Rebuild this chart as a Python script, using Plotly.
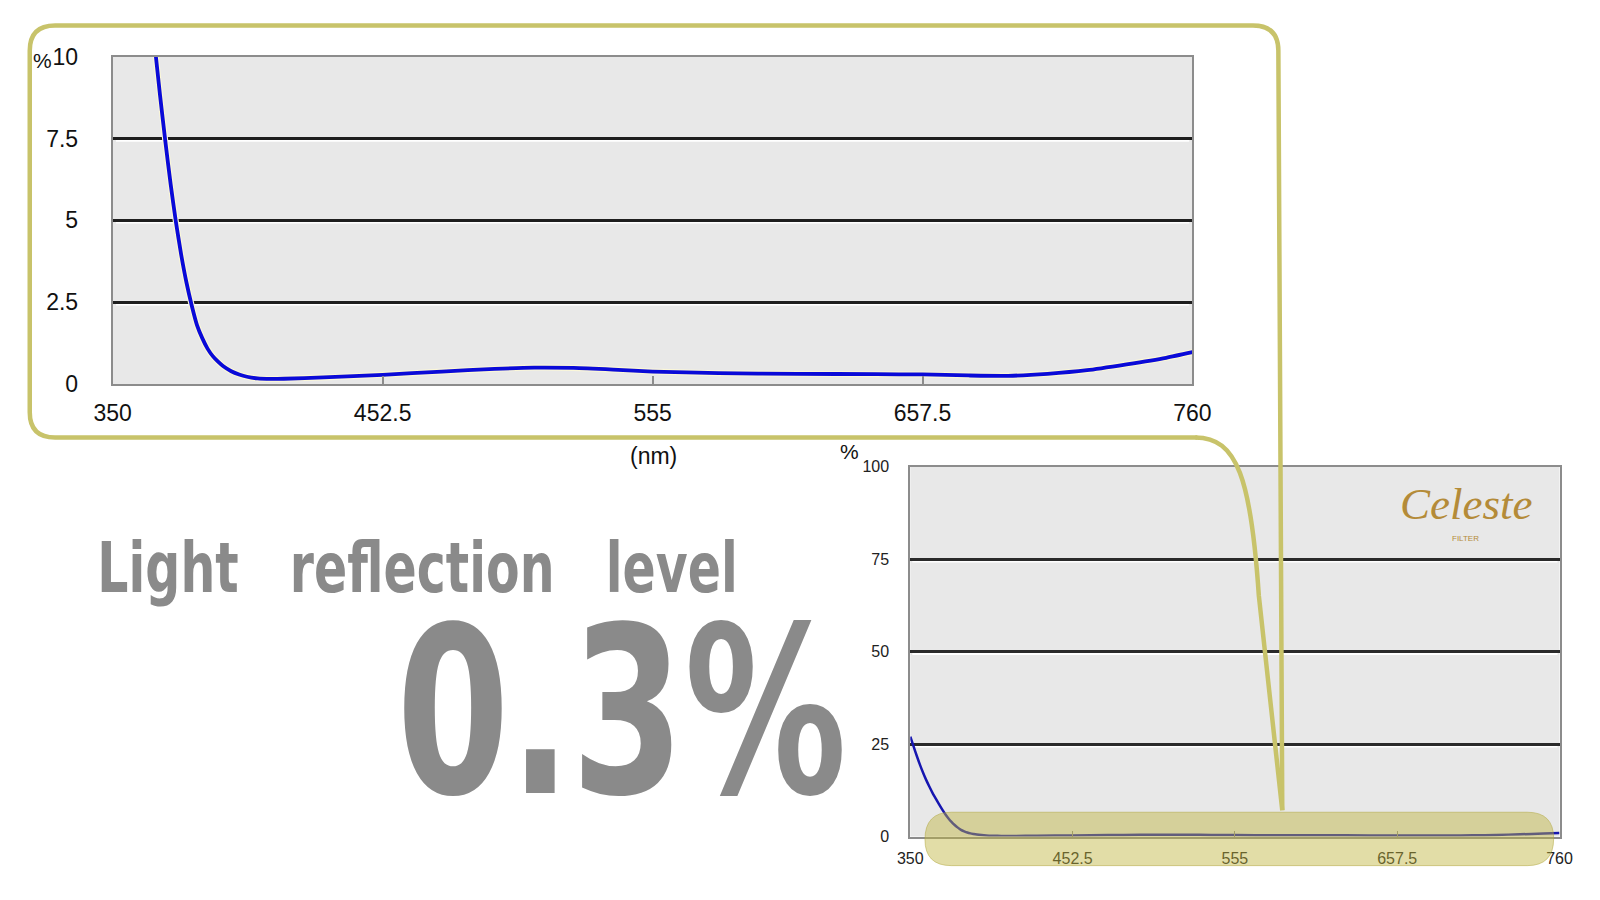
import plotly.graph_objects as go

# ---------------- data ----------------
wavelength_nm = [350, 352, 354, 356, 358, 360, 362, 364, 366, 368, 370, 372, 374, 376, 378,
                 380, 382, 384, 386, 388, 390, 392, 395, 398, 401, 405, 410, 415, 430,
                 452.5, 475, 495, 510, 525, 540, 555, 580, 610, 640, 657.5, 675, 690,
                 705, 720, 735, 750, 760]
reflectance_pct = [27, 24.4, 21.9, 19.5, 17.3, 15.3, 13.5, 11.8, 10.3, 8.8, 7.4, 6.1, 4.95, 3.95, 3.1,
                   2.4, 1.8, 1.4, 1.08, 0.85, 0.68, 0.54, 0.39, 0.29, 0.22, 0.17, 0.155, 0.16, 0.2,
                   0.28, 0.38, 0.46, 0.5, 0.49, 0.44, 0.38, 0.33, 0.31, 0.3, 0.29, 0.26, 0.25,
                   0.31, 0.42, 0.6, 0.8, 0.97]

x_ticks = [350, 452.5, 555, 657.5, 760]
x_tick_labels = ["350", "452.5", "555", "657.5", "760"]
zoom_y_ticks = [0, 2.5, 5, 7.5, 10]
zoom_y_labels = ["0", "2.5", "5", "7.5", "10"]
full_y_ticks = [0, 25, 50, 75, 100]
full_y_labels = ["0", "25", "50", "75", "100"]

headline_words = ["Light", "reflection", "level"]
headline_value = "0.3%"
brand = "Celeste"
brand_sub = "FILTER"

# ---------------- layout helpers ----------------
W, H = 1600, 900


def px(x):
    return x / W


def py(y):
    return 1 - y / H


def P(x, y):
    return f"{px(x):.5f},{py(y):.5f}"


SANS = "Liberation Sans, Arial, Helvetica, sans-serif"
HEAVY = "DejaVu Sans, Liberation Sans, sans-serif"
GOLD = "#b48b38"
OLIVE = "#c8c36a"
GREY_TXT = "#8a8a8a"

fig = go.Figure()

# top (zoomed) chart
fig.add_trace(go.Scatter(x=wavelength_nm, y=reflectance_pct, mode="lines",
                         line=dict(color="#fbf7d8", width=6, shape="spline", smoothing=0.6),
                         xaxis="x", yaxis="y", hoverinfo="skip"))
fig.add_trace(go.Scatter(x=wavelength_nm, y=reflectance_pct, mode="lines",
                         line=dict(color="#0a0ad8", width=3.8, shape="spline", smoothing=0.6),
                         xaxis="x", yaxis="y"))
# bottom (full scale) chart
fig.add_trace(go.Scatter(x=wavelength_nm, y=reflectance_pct, mode="lines",
                         line=dict(color="#1616b0", width=2.5, shape="spline", smoothing=0.6),
                         xaxis="x2", yaxis="y2"))

axis_common = dict(showline=True, mirror=True, linecolor="#8c8c8c", linewidth=2,
                   zeroline=False, fixedrange=True)

layout = dict(
    width=W, height=H,
    margin=dict(l=0, r=0, t=0, b=0),
    paper_bgcolor="white",
    plot_bgcolor="#e8e8e8",
    showlegend=False,
    xaxis=dict(domain=[px(96), px(1202)], range=[350, 760], anchor="y",
               tickvals=x_ticks, ticktext=x_tick_labels, showgrid=False,
               ticks="inside", ticklen=8, tickcolor="#8c8c8c", tickwidth=1.5,
               tickfont=dict(family=SANS, size=23, color="#111"),
               ticklabelstandoff=7, **axis_common),
    yaxis=dict(domain=[py(382), py(45)], range=[0, 10], anchor="x",
               tickvals=zoom_y_ticks, ticktext=zoom_y_labels,
               showgrid=True, gridcolor="#1e1e1e", gridwidth=2.5, ticks="",
               tickfont=dict(family=SANS, size=23, color="#111"),
               ticklabelstandoff=28, **axis_common),
    xaxis2=dict(domain=[px(913), px(1578)], range=[350, 760], anchor="y2",
                tickvals=x_ticks, ticktext=x_tick_labels, showgrid=False,
                ticks="inside", ticklen=6, tickcolor="#8c8c8c", tickwidth=1,
                tickfont=dict(family=SANS, size=16, color="#222"),
                ticklabelstandoff=6, **axis_common),
    yaxis2=dict(domain=[py(848), py(467)], range=[0, 100], anchor="x2",
                tickvals=full_y_ticks, ticktext=full_y_labels,
                showgrid=True, gridcolor="#2a2a2a", gridwidth=2.5, ticks="",
                tickfont=dict(family=SANS, size=16, color="#222"),
                ticklabelstandoff=16, **axis_common),
)
fig.update_layout(**layout)

shapes = []
# light emboss line just below each grid line
for g in zoom_y_ticks[1:-1]:
    shapes.append(dict(type="line", xref="x domain", yref="y", x0=0.003, x1=0.997,
                       y0=g - 0.07, y1=g - 0.07, line=dict(color="white", width=2),
                       layer="below"))
for g in full_y_ticks[1:-1]:
    shapes.append(dict(type="line", xref="x2 domain", yref="y2", x0=0.003, x1=0.997,
                       y0=g - 0.65, y1=g - 0.65, line=dict(color="white", width=2),
                       layer="below"))

# callout outline around the zoomed chart
callout = ("M " + P(1207, 437) + " L " + P(37, 437) + " Q " + P(11, 437) + " " + P(11, 411) +
           " L " + P(11, 39) + " Q " + P(11, 13) + " " + P(37, 13) +
           " L " + P(1264, 13) + " Q " + P(1290, 13) + " " + P(1290, 39) +
           " L " + P(1294, 821))
shapes.append(dict(type="path", xref="paper", yref="paper", path=callout,
                   line=dict(color=OLIVE, width=4.5), layer="above"))
funnel = ("M " + P(1205, 437) + " C " + P(1248, 437) + " " + P(1262, 480) + " " + P(1270, 600) +
          " L " + P(1294, 821))
shapes.append(dict(type="path", xref="paper", yref="paper", path=funnel,
                   line=dict(color=OLIVE, width=4.5), layer="above"))

# translucent pill highlighting the bottom of the full chart
x0, x1, y0, y1, r = 928, 1572, 823, 878, 27
pill = ("M " + P(x0 + r, y0) + " L " + P(x1 - r, y0) + " Q " + P(x1, y0) + " " + P(x1, y0 + r) +
        " Q " + P(x1, y1) + " " + P(x1 - r, y1) + " L " + P(x0 + r, y1) +
        " Q " + P(x0, y1) + " " + P(x0, y1 - r) + " Q " + P(x0, y0) + " " + P(x0 + r, y0) + " Z")
shapes.append(dict(type="path", xref="paper", yref="paper", path=pill,
                   fillcolor="rgba(190,180,60,0.45)", line=dict(color="rgba(175,165,60,0.5)", width=1),
                   layer="above"))
fig.update_layout(shapes=shapes)

ann = []


def A(text, x, y, size, color="#111", family=SANS):
    ann.append(dict(text=text, x=px(x), y=py(y), xref="paper", yref="paper",
                    xanchor="center", yanchor="middle", showarrow=False,
                    font=dict(family=family, size=size, color=color)))


A("%", 24, 49, 21)                 # index 0
A("(nm)", 650, 456, 23)            # index 1
A("%", 851, 452, 21)               # index 2

# headline (index 3) and big value (index 4)
gap = "\u00a0" * 3
A("<b>" + gap.join(headline_words) + "</b>", 408, 572, 70, GREY_TXT, HEAVY)
A(f"<b>{headline_value}</b>", 617, 721, 232, GREY_TXT, HEAVY)

# brand mark (indices 5, 6)
A(f"<i>{brand}</i>", 1482, 506, 45, GOLD, "Liberation Serif, DejaVu Serif, serif")
A(brand_sub, 1482, 541, 8, GOLD, SANS)

fig.update_layout(annotations=ann)

# the original headline uses a condensed face: render the heavy type narrower
css = ("body{margin:0;}"
       ".annotation[data-index='3'] text{transform-box:fill-box;transform-origin:center;transform:scaleX(0.70);}"
       ".annotation[data-index='4'] text{transform-box:fill-box;transform-origin:center;transform:scaleX(0.70);}")
post = ("var s=document.createElement('style');s.textContent=\"" + css + "\";"
        "document.head.appendChild(s);document.body.style.margin='0';")

fig.write_html("out.html", config={"displayModeBar": False}, post_script=post)
